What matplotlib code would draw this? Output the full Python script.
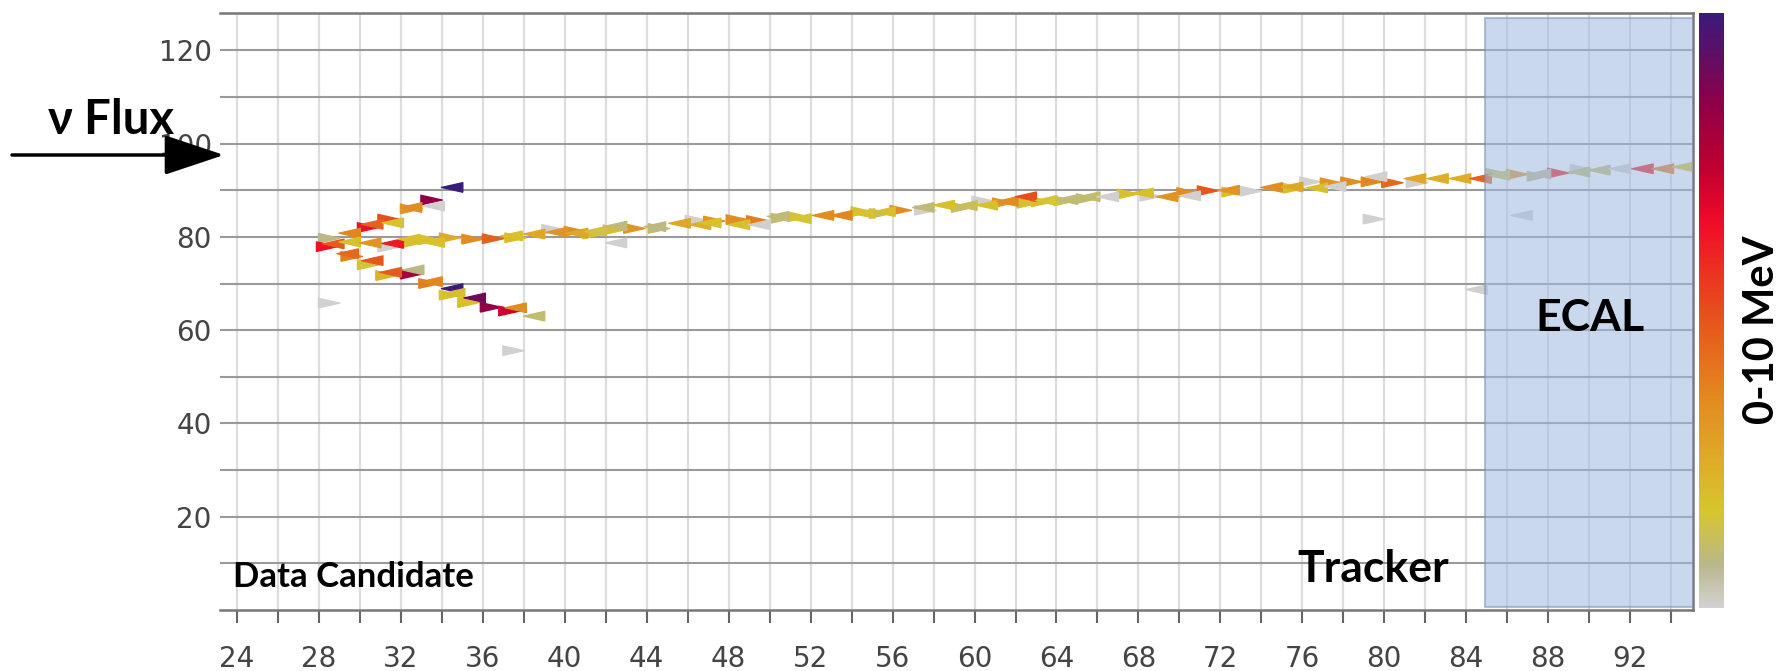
#!/usr/bin/env python3
"""Event display: tracker hits (triangles) coloured by energy, ECAL band, colour bar."""

import matplotlib

matplotlib.use("Agg")
import matplotlib.pyplot as plt
import numpy as np
from matplotlib.colors import LinearSegmentedColormap, Normalize

# hit position (x, y), deposited energy (MeV) and pointing direction (+1 right, -1 left)
hit_x = [
    28.5, 28.4, 28.7, 28.5, 29.5, 29.5, 29.4, 29.6, 30.4, 30.6, 30.5, 30.6, 30.4,
    31.4, 31.6, 31.4, 31.6, 31.5, 31.3, 32.5, 32.5, 32.4, 32.6, 32.5, 32.6,
    33.5, 33.6, 33.4, 33.6, 33.5, 33.4, 34.5, 34.4, 34.5, 34.4, 34.6,
    35.5, 35.6, 35.3, 36.5, 36.4, 37.4, 37.6, 37.3, 37.6, 37.5, 38.5, 38.5,
    39.4, 39.6, 40.5, 40.6, 41.5, 41.4, 42.5, 42.4, 42.5, 43.4, 44.4, 44.6,
    45.6, 46.4, 46.6, 47.3, 47.1, 48.4, 48.5, 49.4, 49.5, 50.4, 50.6, 51.4, 51.5,
    52.6, 53.5, 54.5, 54.6, 55.4, 55.6, 56.4, 57.5, 57.6, 58.5, 59.4, 59.6,
    60.4, 60.6, 61.4, 61.6, 62.5, 62.6, 63.3, 63.5, 64.5, 64.4, 65.5, 65.6,
    66.5, 67.5, 68.2, 68.6, 69.4, 70.4, 70.5, 71.4, 72.4, 72.6, 73.5,
    74.5, 75.5, 75.6, 76.4, 76.7, 77.4, 77.6, 78.4, 79.4, 79.6, 79.5,
    80.4, 81.5, 81.6, 82.6, 83.7, 84.7, 84.5, 85.5, 85.6, 86.5, 86.7,
    87.5, 87.6, 88.5, 89.5, 89.6, 90.5, 91.5, 92.6, 93.6, 94.6,
]
hit_y = [
    79.7, 77.9, 78.5, 65.8, 80.8, 78.9, 76.4, 75.8, 82.0, 82.7, 78.7, 74.9, 74.0,
    83.8, 83.0, 77.8, 78.6, 72.4, 71.7, 86.3, 86.0, 79.5, 78.8, 72.0, 72.9,
    87.9, 86.6, 79.4, 78.8, 70.4, 70.0, 90.6, 79.8, 68.9, 67.5, 67.9,
    79.5, 66.9, 65.9, 79.6, 64.9, 80.2, 79.8, 64.1, 64.8, 55.6, 80.6, 63.0,
    81.6, 81.0, 81.2, 80.8, 81.2, 80.6, 82.3, 81.5, 78.7, 81.8, 82.2, 81.8,
    82.9, 83.6, 82.6, 83.4, 83.0, 83.7, 82.6, 83.5, 82.6, 84.4, 84.0, 84.3, 83.9,
    84.6, 84.6, 85.4, 85.0, 85.0, 85.4, 85.7, 86.3, 85.7, 86.8, 86.3, 86.7,
    87.7, 86.8, 87.3, 87.6, 88.6, 87.2, 87.5, 87.8, 88.0, 87.7, 88.2, 88.6,
    88.6, 89.2, 89.4, 88.7, 88.6, 89.5, 88.8, 89.9, 90.0, 89.6, 89.8,
    90.6, 90.7, 90.4, 91.8, 90.5, 91.6, 90.8, 91.8, 91.8, 92.9, 83.8,
    91.6, 92.5, 91.6, 92.5, 92.5, 92.5, 68.7, 93.6, 93.2, 93.4, 84.6,
    93.0, 93.5, 93.7, 93.9, 94.5, 94.3, 94.6, 94.6, 94.6, 95.0,
]
hit_energy = [
    0.8, 6.4, 4.7, 0.05, 3.6, 1.8, 4.3, 3.8, 6.4, 4.5, 3.2, 4.8, 1.5,
    5.0, 1.7, 0.05, 6.2, 4.7, 2.2, 3.4, 3.2, 1.8, 1.8, 8.0, 0.8,
    8.4, 0.05, 1.8, 1.8, 3.6, 3.8, 10.0, 2.5, 10.0, 1.7, 1.9,
    3.4, 9.0, 1.8, 4.5, 8.4, 1.8, 2.0, 7.2, 3.4, 0.05, 2.6, 1.0,
    0.05, 3.2, 3.4, 2.6, 1.4, 1.8, 0.9, 1.8, 0.05, 3.2, 0.8, 1.0,
    2.6, 0.05, 2.4, 3.2, 1.8, 3.4, 1.8, 3.8, 0.05, 0.9, 1.0, 1.8, 1.6,
    3.4, 3.6, 1.8, 1.7, 1.0, 1.8, 3.4, 0.9, 0.05, 1.8, 1.0, 1.2,
    0.05, 1.8, 3.2, 3.4, 5.0, 1.8, 1.8, 1.6, 0.9, 1.1, 0.9, 1.0,
    0.05, 1.8, 1.8, 0.05, 3.2, 3.4, 0.05, 4.8, 3.2, 1.8, 0.05,
    3.4, 2.6, 1.8, 0.05, 1.8, 3.2, 0.05, 3.4, 3.6, 0.05, 0.05,
    4.4, 2.6, 0.05, 2.4, 2.4, 4.5, 0.05, 1.0, 1.2, 3.2, 0.05,
    0.8, 0.6, 6.0, 1.0, 0.05, 1.0, 0.05, 6.0, 3.8, 1.6,
]
hit_dir = [
    1, 1, -1, 1, -1, -1, -1, 1, 1, -1, -1, -1, 1,
    1, -1, 1, -1, -1, 1, -1, 1, -1, 1, 1, -1,
    1, -1, 1, -1, -1, 1, -1, 1, -1, 1, -1,
    1, -1, 1, 1, 1, -1, 1, 1, -1, 1, -1, -1,
    1, -1, 1, -1, -1, 1, -1, 1, -1, 1, -1, 1,
    -1, 1, -1, 1, -1, 1, -1, 1, -1, -1, 1, 1, -1,
    -1, -1, 1, -1, 1, -1, 1, -1, 1, -1, 1, -1,
    1, -1, 1, -1, -1, 1, 1, -1, -1, 1, 1, -1,
    -1, 1, -1, 1, -1, 1, -1, 1, -1, 1, 1,
    -1, -1, 1, 1, -1, 1, -1, 1, 1, -1, 1,
    1, -1, 1, -1, -1, -1, -1, 1, -1, 1, -1,
    1, -1, 1, -1, 1, -1, -1, -1, -1, -1,
]

x_ticks = list(range(24, 93, 4))
y_ticks = list(range(20, 121, 20))
ecal_start = 84.9

# colour scale 0-10 MeV from bottom to top
cmap_stops = [
    (0.00, "#d2d2d2"), (0.07, "#b9b78c"), (0.16, "#d6c62e"), (0.25, "#e0aa28"),
    (0.35, "#e28a20"), (0.47, "#e65a1c"), (0.57, "#ec3020"), (0.65, "#f00a28"),
    (0.74, "#c0002f"), (0.85, "#8e0048"), (0.94, "#5a1068"), (1.00, "#3a1a7a"),
]

W, H = 1780, 671


def fx(px):
    return px / W


def fy(py):
    return 1 - py / H


cmap = LinearSegmentedColormap.from_list("energy", cmap_stops)
norm = Normalize(0, 10)

fig = plt.figure(figsize=(W / 100, H / 100), dpi=100)
ax = fig.add_axes([fx(220), fy(610), fx(1693) - fx(220), fy(13) - fy(610)])

ax.set_xlim(23.17, 95.07)
ax.set_ylim(0, 128)

ax.set_xticks(x_ticks)
ax.set_xticks(list(range(26, 95, 4)), minor=True)
ax.set_yticks(y_ticks)
ax.set_yticks(list(range(10, 121, 20)), minor=True)
ax.tick_params(axis="x", which="both", length=9, width=1.5, color="#666666",
               pad=16, labelsize=20, labelcolor="#444444")
ax.tick_params(axis="y", which="both", length=0, pad=6, labelsize=20,
               labelcolor="#444444")

ax.grid(axis="x", which="both", color="#dddddd", lw=1.6, zorder=0)
ax.grid(axis="y", which="both", color="#9a9a9a", lw=1.5, zorder=0)
ax.set_axisbelow(True)

for side in ("top", "right", "bottom"):
    ax.spines[side].set_color("#777777")
    ax.spines[side].set_linewidth(1.8)
ax.spines["left"].set_visible(False)

tri_right = [(-1, -0.45), (1, 0), (-1, 0.45), (-1, -0.45)]
tri_left = [(1, -0.45), (-1, 0), (1, 0.45), (1, -0.45)]

hx = np.array(hit_x)
hy = np.array(hit_y)
he = np.array(hit_energy)
hd = np.array(hit_dir)
for d, verts in ((1, tri_right), (-1, tri_left)):
    m = hd == d
    ax.scatter(hx[m], hy[m], c=he[m], cmap=cmap, norm=norm, marker=verts,
               s=240, linewidths=0.9, edgecolors="face", zorder=3)

ax.axvspan(ecal_start, 95.07, ymin=0.005, ymax=0.992, facecolor="#a0b8e0",
           alpha=0.55, edgecolor="#7d8fb0", lw=1.5, zorder=4)

# colour bar
cax = fig.add_axes([fx(1699), fy(608), fx(25), fy(13) - fy(608)])
sm = plt.cm.ScalarMappable(norm=norm, cmap=cmap)
cbar = fig.colorbar(sm, cax=cax)
cbar.outline.set_visible(False)
cbar.set_ticks([])

label_font = ["Lato", "DejaVu Sans"]
fig.text(fx(1762), fy(330), "0-10 MeV", rotation=90, ha="center", va="center",
         fontsize=30, fontweight="bold", family=label_font)
fig.text(fx(233), fy(587), "Data Candidate", ha="left", va="baseline",
         fontsize=25, fontweight="bold", family=label_font)
fig.text(fx(1297), fy(582), "Tracker", ha="left", va="baseline",
         fontsize=32, fontweight="bold", family=label_font)
fig.text(fx(1535), fy(331), "ECAL", ha="left", va="baseline",
         fontsize=32, fontweight="bold", family=label_font)
fig.text(fx(48), fy(134), "ν Flux", ha="left", va="baseline",
         fontsize=34, fontweight="bold", family=label_font)

fig.add_artist(matplotlib.patches.FancyArrowPatch(
    (fx(12), fy(155)), (fx(224), fy(155)), transform=fig.transFigure,
    arrowstyle="-|>,head_length=1.5,head_width=0.5", mutation_scale=25,
    lw=2.5, color="black", shrinkA=0, shrinkB=0,
))

fig.savefig("out.png", dpi=100)
